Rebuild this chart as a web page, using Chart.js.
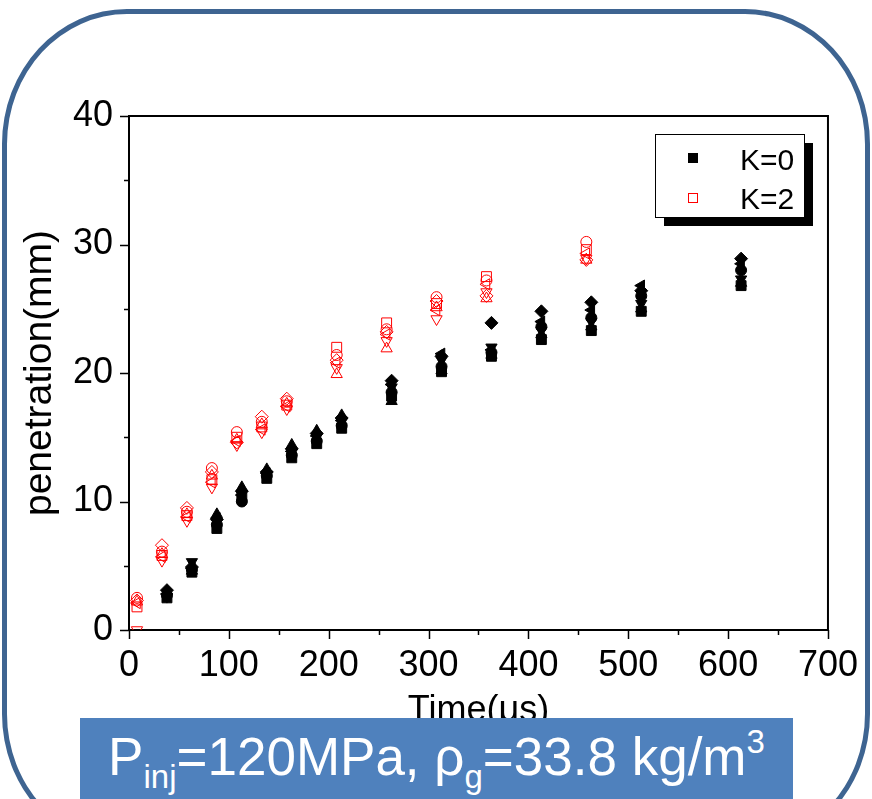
<!DOCTYPE html>
<html>
<head>
<meta charset="utf-8">
<script src="https://cdn.jsdelivr.net/npm/chart.js@4.4.0/dist/chart.umd.min.js"></script>
<style>
html, body { margin:0; padding:0; background:#fff; }
#wrap { position:relative; width:872px; height:799px; overflow:hidden; }
#c { position:absolute; left:0; top:0; }
#frame { position:absolute; left:2px; top:9px; width:858px; height:830px; border:5px solid #3e6491; border-radius:125px / 135px; pointer-events:none; }
#banner { position:absolute; left:80px; top:718px; width:713px; height:90px; background:#4f81bd; color:#fff;
  font-family:"Liberation Sans", Arial, sans-serif; font-size:53px; text-align:center; line-height:78px; white-space:nowrap; }
#banner sub, #banner sup { font-size:33px; line-height:0; position:relative; vertical-align:baseline; }
#banner sub { top:13px; }
#banner sup { top:-22px; }
</style>
</head>
<body>
<div id="wrap">
  <canvas id="c" width="872" height="799"></canvas>
  <div id="frame"></div>
  <div id="banner">P<sub>inj</sub>=120MPa, ρ<sub>g</sub>=33.8 kg/m<sup>3</sup></div>
</div>
<script>
// time of each measurement (us)
var timeK0 = [38, 63, 88, 113, 138, 163, 188, 213, 263, 313, 363, 413, 463, 513, 613];
var timeK2 = [8, 33, 58, 83, 108, 133, 158, 208, 258, 308, 358, 458];

// K=0, one array per run (marker shape)
var k0Square   = [2.5, 4.5, 7.9, 10.3, 11.8, 13.4, 14.5, 15.7, 18.2, 20.1, 21.3, 22.6, 23.3, 24.8, 26.8];
var k0Circle   = [2.7, 4.7, 8.2, 10.0, 12.0, 13.6, 14.7, 15.9, 18.5, 20.5, 21.6, 23.6, 24.3, 26.0, 28.0];
var k0Up       = [3.0, 4.6, 9.0, 11.1, 12.5, 14.4, 15.5, 16.7, 17.8, 20.2, 21.4, 23.0, 23.6, 25.0, 27.0];
var k0Down     = [2.6, 5.3, 8.4, 10.6, 12.1, 13.8, 15.0, 16.2, 18.9, 21.0, 22.0, 23.3, 24.0, 25.4, 27.3];
var k0Diamond  = [3.1, 4.9, 8.6, 10.8, 12.3, 14.1, 15.3, 16.5, 19.4, 21.3, 23.9, 24.8, 25.5, 26.4, 28.9];
var k0Left     = [2.8, 4.8, 8.7, 10.5, 12.2, 13.9, 15.1, 16.3, 19.1, 21.5, 21.8, 24.0, 24.9, 26.8, 28.5];

// K=2
var k2Square   = [1.8, 5.8, 8.9, 11.7, 15.0, 15.8, 17.5, 22.0, 23.9, 25.4, 27.5, 29.6];
var k2Circle   = [2.5, 6.1, 9.2, 12.6, 15.4, 16.2, 17.8, 21.4, 23.4, 25.9, 27.2, 30.2];
var k2Up       = [2.2, 5.9, 9.0, 12.0, 14.8, 16.0, 17.6, 19.9, 21.9, 25.1, 25.8, 28.8];
var k2Down     = [0.0, 5.4, 8.5, 11.1, 14.4, 15.4, 17.2, 20.4, 22.5, 24.2, 26.3, 28.9];
var k2Diamond  = [2.3, 6.6, 9.5, 12.3, 14.6, 16.6, 18.0, 21.0, 23.2, 25.6, 26.0, 28.8];
var k2Left     = [2.1, 5.7, 8.8, 11.5, 14.7, 15.6, 17.4, 20.8, 23.0, 24.9, 26.9, 29.3];

var xTicks = [0, 100, 200, 300, 400, 500, 600, 700];
var yTicks = [0, 10, 20, 30, 40];
var legendNames = ['K=0', 'K=2'];

var FONT = '"Liberation Sans", Arial, sans-serif';

function pts(times, vals) {
  var out = [];
  for (var i = 0; i < times.length; i++) out.push({x: times[i], y: vals[i]});
  return out;
}

function makeSet(label, times, vals, style, rot, filled, r) {
  var col = filled ? '#000000' : '#ff0000';
  return {
    label: label,
    data: pts(times, vals),
    pointStyle: style,
    rotation: rot,
    pointRadius: r,
    backgroundColor: filled ? col : 'rgba(0,0,0,0)',
    borderColor: col,
    borderWidth: 1,
    showLine: false,
    clip: 0
  };
}

var datasets = [
  makeSet('K=0', timeK0, k0Square, 'rect', 0, true, 7),
  makeSet('K=0 b', timeK0, k0Circle, 'circle', 0, true, 5.5),
  makeSet('K=0 c', timeK0, k0Up, 'triangle', 0, true, 6.5),
  makeSet('K=0 d', timeK0, k0Down, 'triangle', 180, true, 6.5),
  makeSet('K=0 e', timeK0, k0Diamond, 'rectRot', 0, true, 6.5),
  makeSet('K=0 f', timeK0, k0Left, 'triangle', 270, true, 6.5),
  makeSet('K=2', timeK2, k2Square, 'rect', 0, false, 7),
  makeSet('K=2 b', timeK2, k2Circle, 'circle', 0, false, 5.5),
  makeSet('K=2 c', timeK2, k2Up, 'triangle', 0, false, 6.5),
  makeSet('K=2 d', timeK2, k2Down, 'triangle', 180, false, 6.5),
  makeSet('K=2 e', timeK2, k2Diamond, 'rectRot', 0, false, 6.5),
  makeSet('K=2 f', timeK2, k2Left, 'triangle', 270, false, 6.5)
];

// frame, tick marks and boxed legend
var decor = {
  id: 'decor',
  afterDraw: function(chart) {
    var ctx = chart.ctx, a = chart.chartArea;
    var xs = chart.scales.x, ys = chart.scales.y;
    ctx.save();
    ctx.strokeStyle = '#000';
    ctx.lineWidth = 2;
    ctx.beginPath();
    ctx.moveTo(a.left, a.top); ctx.lineTo(a.right, a.top); ctx.lineTo(a.right, a.bottom);
    ctx.stroke();
    ctx.lineWidth = 1.5;
    ctx.beginPath();
    for (var v = 0; v <= 700; v += 50) {
      var px = Math.round(xs.getPixelForValue(v)) + 0.5;
      var len = (v % 100 === 0) ? 9 : 5;
      ctx.moveTo(px, a.bottom); ctx.lineTo(px, a.bottom + len);
    }
    for (var w = 0; w <= 40; w += 5) {
      var py = Math.round(ys.getPixelForValue(w)) + 0.5;
      var l2 = (w % 10 === 0) ? 9 : 5;
      ctx.moveTo(a.left, py); ctx.lineTo(a.left - l2, py);
    }
    ctx.stroke();

    // legend
    var bx = 655, by = 134, bw = 149, bh = 83;
    ctx.fillStyle = '#000';
    ctx.fillRect(bx + 9, by + 9, bw, bh);
    ctx.fillStyle = '#fff';
    ctx.fillRect(bx, by, bw, bh);
    ctx.lineWidth = 1;
    ctx.strokeStyle = '#000';
    ctx.strokeRect(bx + 0.5, by + 0.5, bw, bh);
    ctx.fillStyle = '#000';
    ctx.fillRect(688, 153, 10, 10);
    ctx.strokeStyle = '#ff0000';
    ctx.strokeRect(688.5, 193.5, 9, 9);
    ctx.fillStyle = '#000';
    ctx.font = '30px ' + FONT;
    ctx.textBaseline = 'alphabetic';
    ctx.textAlign = 'left';
    ctx.fillText(legendNames[0], 740, 170);
    ctx.fillText(legendNames[1], 740, 209);
    ctx.restore();
  }
};

new Chart(document.getElementById('c').getContext('2d'), {
  type: 'scatter',
  data: { datasets: datasets },
  plugins: [decor],
  options: {
    responsive: false,
    animation: false,
    layout: { padding: { left: 0, top: 116, right: 44, bottom: 0 } },
    plugins: { legend: { display: false }, tooltip: { enabled: false } },
    scales: {
      x: {
        type: 'linear', min: 0, max: 700,
        afterFit: function(s) { s.height = 169; },
        afterBuildTicks: function(s) { s.ticks = xTicks.map(function(v) { return {value: v}; }); },
        ticks: { color: '#000', padding: 14, maxRotation: 0, autoSkip: false, font: { family: FONT, size: 36 } },
        grid: { display: false, drawTicks: false },
        border: { display: true, color: '#000', width: 2 },
        title: { display: true, text: 'Time(μs)', color: '#000', font: { family: FONT, size: 36 }, padding: { top: 0, bottom: 66 } }
      },
      y: {
        type: 'linear', min: 0, max: 40,
        afterFit: function(s) { s.width = 129; },
        afterBuildTicks: function(s) { s.ticks = yTicks.map(function(v) { return {value: v}; }); },
        ticks: { color: '#000', padding: 16, font: { family: FONT, size: 36 } },
        grid: { display: false, drawTicks: false },
        border: { display: true, color: '#000', width: 2 },
        title: { display: true, text: 'penetration(mm)', color: '#000', font: { family: FONT, size: 39 }, padding: { top: 17, bottom: 0 } }
      }
    }
  }
});
</script>
</body>
</html>
